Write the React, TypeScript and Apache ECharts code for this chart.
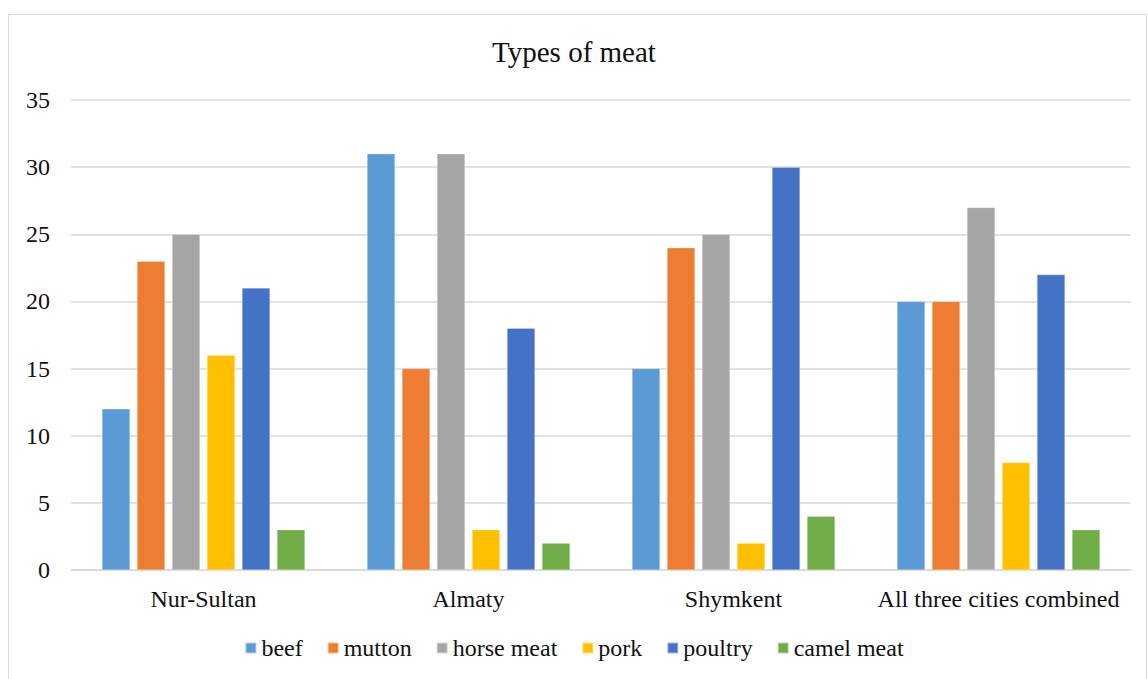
import React, { useEffect, useRef } from "react";
import * as echarts from "echarts";

const categories = ["Nur-Sultan", "Almaty", "Shymkent", "All three cities combined"];
const seriesNames = ["beef", "mutton", "horse meat", "pork", "poultry", "camel meat"];
const beef = [12, 31, 15, 20];
const mutton = [23, 15, 24, 20];
const horseMeat = [25, 31, 25, 27];
const pork = [16, 3, 2, 8];
const poultry = [21, 18, 30, 22];
const camelMeat = [3, 2, 4, 3];
const seriesValues = [beef, mutton, horseMeat, pork, poultry, camelMeat];
const colors = ["#5B9BD5", "#ED7D31", "#A5A5A5", "#FFC000", "#4472C4", "#70AD47"];

const FONT = "'Liberation Serif', 'DejaVu Serif', serif";
const TEXT = "#111";

export default function App() {
  const ref = useRef<HTMLDivElement>(null);
  useEffect(() => {
    if (!ref.current) return;
    const chart = echarts.init(ref.current, null, { renderer: "svg" });
    chart.setOption({
      animation: false,
      backgroundColor: "#fff",
      color: colors,
      title: {
        text: "Types of meat",
        left: "center",
        top: 32,
        textStyle: { fontFamily: FONT, fontSize: 29, fontWeight: "normal", color: TEXT },
      },
      graphic: [
        {
          type: "rect",
          shape: { x: 8.5, y: 14.5, width: 1138, height: 680 },
          style: { fill: "none", stroke: "#D9D9D9", lineWidth: 1 },
          silent: true,
        },
      ],
      legend: {
        top: 631,
        left: "center",
        icon: "rect",
        itemWidth: 11,
        itemHeight: 11,
        itemGap: 24,
        textStyle: { fontFamily: FONT, fontSize: 24, color: TEXT },
        data: seriesNames,
      },
      grid: { left: 71, right: 17, top: 100, bottom: 109, containLabel: false },
      xAxis: {
        type: "category",
        data: categories,
        axisLine: { lineStyle: { color: "#D9D9D9", width: 1.5 } },
        axisTick: { show: false },
        axisLabel: { fontFamily: FONT, fontSize: 24, color: TEXT, margin: 17, interval: 0 },
      },
      yAxis: {
        type: "value",
        min: 0,
        max: 35,
        interval: 5,
        axisLine: { show: false },
        axisTick: { show: false },
        splitLine: { lineStyle: { color: "#D9D9D9", width: 1.5 } },
        axisLabel: { fontFamily: FONT, fontSize: 24, color: TEXT, margin: 21 },
      },
      series: seriesNames.map((name, i) => ({
        name,
        type: "bar",
        data: seriesValues[i],
        barWidth: 28,
        barGap: "25%",
        itemStyle: { color: colors[i], borderColor: "rgba(255,255,255,0.5)", borderWidth: 0.5 },
      })),
    });
    return () => chart.dispose();
  }, []);
  return (
    <div
      ref={ref}
      style={{ position: "absolute", left: 0, top: 0, width: 1148, height: 679 }}
    />
  );
}
